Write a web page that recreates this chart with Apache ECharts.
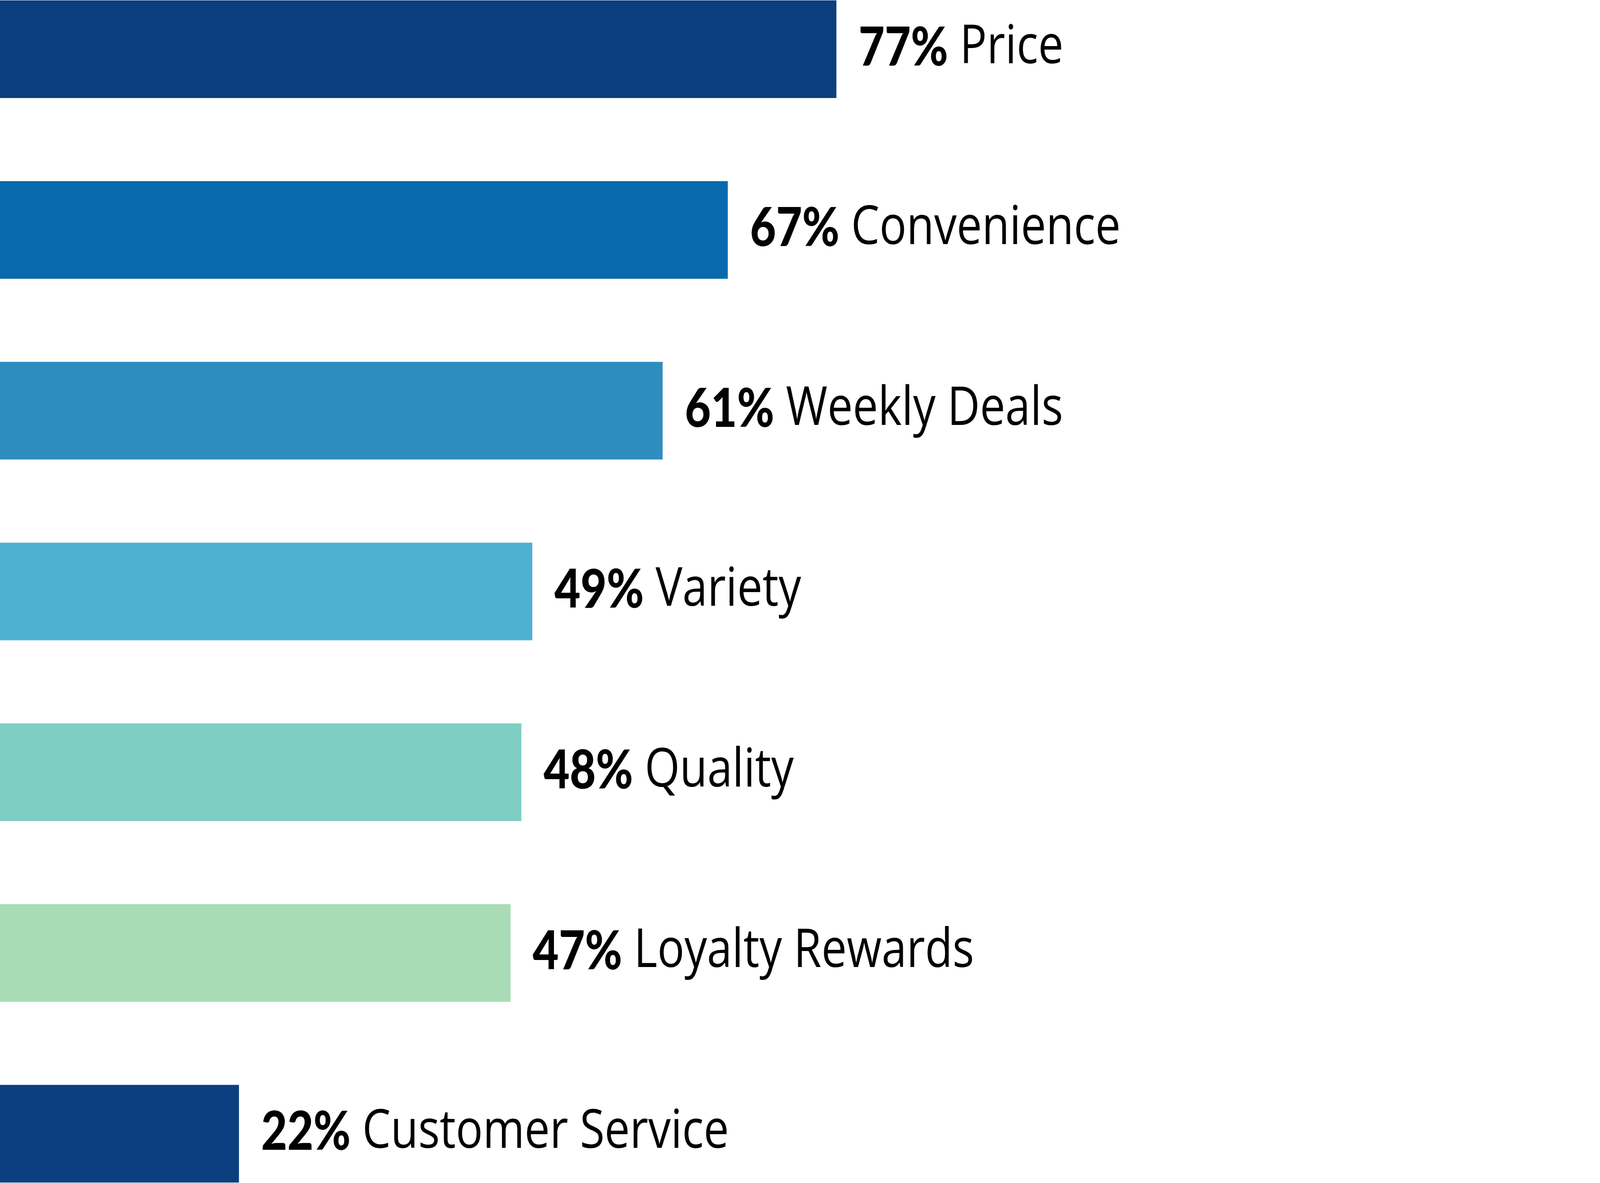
<!DOCTYPE html>
<html>
<head>
<meta charset="utf-8">
<script src="https://cdn.jsdelivr.net/npm/echarts@6/dist/echarts.min.js"></script>
<style>
html,body{margin:0;padding:0;background:#fff;overflow:hidden;}
#wrap{width:100vw;height:100vh;overflow:hidden;position:relative;}
#chart{width:4905px;height:3029px;transform-origin:0 0;position:absolute;left:0;top:0;}
</style>
</head>
<body>
<div id="wrap"><div id="chart"></div></div>
<script>
const categories = ["Price", "Convenience", "Weekly Deals", "Variety", "Quality", "Loyalty Rewards", "Customer Service"];
const values = [77, 67, 61, 49, 48, 47, 22];
const barColors = ["#0B3F7F", "#0869AC", "#2C8DBE", "#4FB1D2", "#7ECEC4", "#A9DCB5", "#0B3F7F"];

const el = document.getElementById('chart');
const sx = Math.min(1, window.innerWidth / 4905);
const sy = Math.min(1, window.innerHeight / 3029);
el.style.transform = 'scale(' + sx + ',' + sy + ')';

const chart = echarts.init(el, null, {renderer: 'canvas', width: 4905, height: 3029});
chart.setOption({
  animation: false,
  backgroundColor: '#ffffff',
  grid: {left: 0, top: -105.4, width: 3330, height: 3239.6, containLabel: false, outerBoundsMode: 'none'},
  xAxis: {type: 'value', min: 0, max: 100, show: false},
  yAxis: {type: 'category', data: categories, inverse: true, show: false},
  series: [{
    type: 'bar',
    barWidth: 250,
    data: values.map((v, i) => ({value: v, itemStyle: {color: barColors[i]}})),
    label: {
      show: true,
      position: 'right',
      distance: 68,
      formatter: p => '{b|' + p.value + '%}{n|\u00a0' + p.name + '}',
      rich: {
        b: {fontFamily: 'Lato', fontWeight: 900, fontSize: 138, color: '#000', padding: [0, 0, 6, 0]},
        n: {fontFamily: 'Open Sans', fontWeight: 400, fontSize: 138, color: '#000', padding: [0, 0, 6, 0]}
      }
    }
  }]
});
</script>
</body>
</html>
